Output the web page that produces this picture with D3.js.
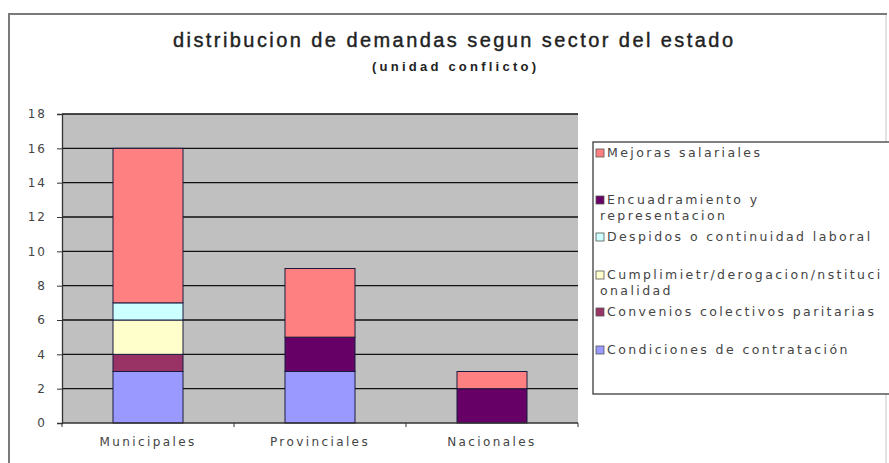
<!DOCTYPE html>
<html>
<head>
<meta charset="utf-8">
<script src="https://cdn.jsdelivr.net/npm/d3@7"></script>
<style>
  body { margin: 0; background: #fff; }
  text { font-family: "Liberation Sans", Arial, sans-serif; }
  text.small { font-family: "DejaVu Sans", Verdana, sans-serif; }
</style>
</head>
<body>
<div id="chart"></div>
<script>
// categories and series (stack order bottom -> top)
var categories = ["Municipales", "Provinciales", "Nacionales"];
var seriesNames = [
  "Condiciones de contratación",
  "Convenios colectivos paritarias",
  "Cumplimietr/derogacion/nstitucionalidad",
  "Despidos o continuidad laboral",
  "Encuadramiento y representacion",
  "Mejoras salariales"
];
var condiciones    = [3, 3, 0];
var convenios      = [1, 0, 0];
var cumplimiento   = [2, 0, 0];
var despidos       = [1, 0, 0];
var encuadramiento = [0, 2, 2];
var mejoras        = [9, 4, 1];
var yTicks = [0, 2, 4, 6, 8, 10, 12, 14, 16, 18];

var colors = ["#9999ff", "#993366", "#ffffcc", "#ccffff", "#660066", "#ff8080"];
// legend labels, split the way the legend wraps them
var legendLines = [
  ["Condiciones de contratación"],
  ["Convenios colectivos paritarias"],
  ["Cumplimietr/derogacion/nstituci", "onalidad"],
  ["Despidos o continuidad laboral"],
  ["Encuadramiento y", "representacion"],
  ["Mejoras salariales"]
];

var width = 889, height = 463;
var margin = {left: 62, right: 311, top: 114, bottom: 40};

var svg = d3.select("#chart").append("svg")
  .attr("width", width)
  .attr("height", height);

// outer chart border
svg.append("path")
  .attr("d", "M9,463 V14 H886 V463")
  .attr("fill", "none")
  .attr("stroke", "#7a7a7a")
  .attr("stroke-width", 2);
svg.append("line")
  .attr("x1", 886).attr("x2", 886).attr("y1", 15).attr("y2", 463)
  .attr("stroke", "#e4e4e4").attr("stroke-width", 2);

// titles
svg.append("text")
  .attr("x", 453).attr("y", 47)
  .attr("text-anchor", "middle")
  .attr("font-size", 20)
  .attr("fill", "#222")
  .attr("stroke", "#222")
  .attr("stroke-width", 0.4)
  .attr("textLength", 560)
  .attr("lengthAdjust", "spacing")
  .text("distribucion de demandas segun sector del estado");

svg.append("text")
  .attr("x", 454).attr("y", 71)
  .attr("text-anchor", "middle")
  .attr("font-size", 13)
  .attr("font-weight", "bold")
  .attr("fill", "#222")
  .attr("textLength", 164)
  .attr("lengthAdjust", "spacing")
  .text("(unidad conflicto)");

var plotW = width - margin.left - margin.right;
var plotH = height - margin.top - margin.bottom;

var x = d3.scaleBand()
  .domain(categories)
  .range([margin.left, margin.left + plotW])
  .paddingInner(0.593)
  .paddingOuter(0.2965);

var y = d3.scaleLinear()
  .domain([0, 18])
  .range([margin.top + plotH, margin.top]);

// plot background
svg.append("rect")
  .attr("x", margin.left).attr("y", margin.top)
  .attr("width", plotW).attr("height", plotH)
  .attr("fill", "#c0c0c0");

// gridlines
svg.append("g")
  .selectAll("line")
  .data(yTicks.filter(function(d) { return d > 0; }))
  .enter().append("line")
    .attr("x1", margin.left).attr("x2", margin.left + plotW)
    .attr("y1", function(d) { return y(d); })
    .attr("y2", function(d) { return y(d); })
    .attr("stroke", "#111")
    .attr("stroke-width", 1.3);

// stacked data
var table = categories.map(function(c, i) {
  return {
    cat: c,
    s0: condiciones[i], s1: convenios[i], s2: cumplimiento[i],
    s3: despidos[i], s4: encuadramiento[i], s5: mejoras[i]
  };
});
var keys = ["s0", "s1", "s2", "s3", "s4", "s5"];
var stacked = d3.stack().keys(keys)(table);

svg.append("g")
  .selectAll("g")
  .data(stacked)
  .enter().append("g")
    .attr("fill", function(d, i) { return colors[i]; })
  .selectAll("rect")
  .data(function(d) { return d.filter(function(p) { return p[1] > p[0]; }); })
  .enter().append("rect")
    .attr("x", function(d) { return x(d.data.cat); })
    .attr("y", function(d) { return y(d[1]); })
    .attr("width", x.bandwidth())
    .attr("height", function(d) { return y(d[0]) - y(d[1]); })
    .attr("stroke", "#1a1a40")
    .attr("stroke-width", 1);

// y axis
var yAxis = svg.append("g")
  .attr("transform", "translate(" + margin.left + ",0)")
  .call(d3.axisLeft(y).tickValues(yTicks).tickSize(5).tickPadding(10));
yAxis.select(".domain").attr("stroke", "#333").attr("stroke-width", 1.3);
yAxis.selectAll(".tick line").attr("stroke", "#333");
yAxis.selectAll("text")
  .attr("class", "small")
  .attr("font-size", 12)
  .attr("fill", "#444")
  .attr("letter-spacing", 2);

// x axis
var xAxisY = y(0);
var xg = svg.append("g");
xg.append("line")
  .attr("x1", margin.left).attr("x2", margin.left + plotW)
  .attr("y1", xAxisY).attr("y2", xAxisY)
  .attr("stroke", "#333").attr("stroke-width", 1.3);
xg.selectAll(".tk")
  .data(d3.range(categories.length + 1))
  .enter().append("line")
    .attr("x1", function(i) { return margin.left + i * plotW / categories.length; })
    .attr("x2", function(i) { return margin.left + i * plotW / categories.length; })
    .attr("y1", xAxisY).attr("y2", xAxisY + 4)
    .attr("stroke", "#333");
xg.selectAll(".lbl")
  .data(categories)
  .enter().append("text")
    .attr("class", "small")
    .attr("x", function(d) { return x(d) + x.bandwidth() / 2; })
    .attr("y", xAxisY + 23)
    .attr("text-anchor", "middle")
    .attr("font-size", 12)
    .attr("letter-spacing", 2.4)
    .attr("fill", "#444")
    .text(function(d) { return d; });

// legend
var lg = svg.append("g");
lg.append("rect")
  .attr("x", 593).attr("y", 142)
  .attr("width", 310).attr("height", 252)
  .attr("fill", "#fff")
  .attr("stroke", "#555")
  .attr("stroke-width", 1.5);

// rows from top: reverse of stack order
var rowY = [153, 200, 237, 275, 312, 350];
var order = d3.range(seriesNames.length).reverse();
order.forEach(function(si, r) {
  var yy = rowY[r];
  lg.append("rect")
    .attr("x", 596).attr("y", yy - 4)
    .attr("width", 8).attr("height", 8)
    .attr("fill", colors[si])
    .attr("stroke", "#555")
    .attr("stroke-width", 0.8);
  legendLines[si].forEach(function(line, k) {
    lg.append("text")
      .attr("class", "small")
      .attr("x", k === 0 ? 607 : 600)
      .attr("y", yy + 4 + k * 16)
      .attr("font-size", 12.5)
      .attr("letter-spacing", 2.4)
      .attr("fill", "#444")
      .text(line);
  });
});
</script>
</body>
</html>
